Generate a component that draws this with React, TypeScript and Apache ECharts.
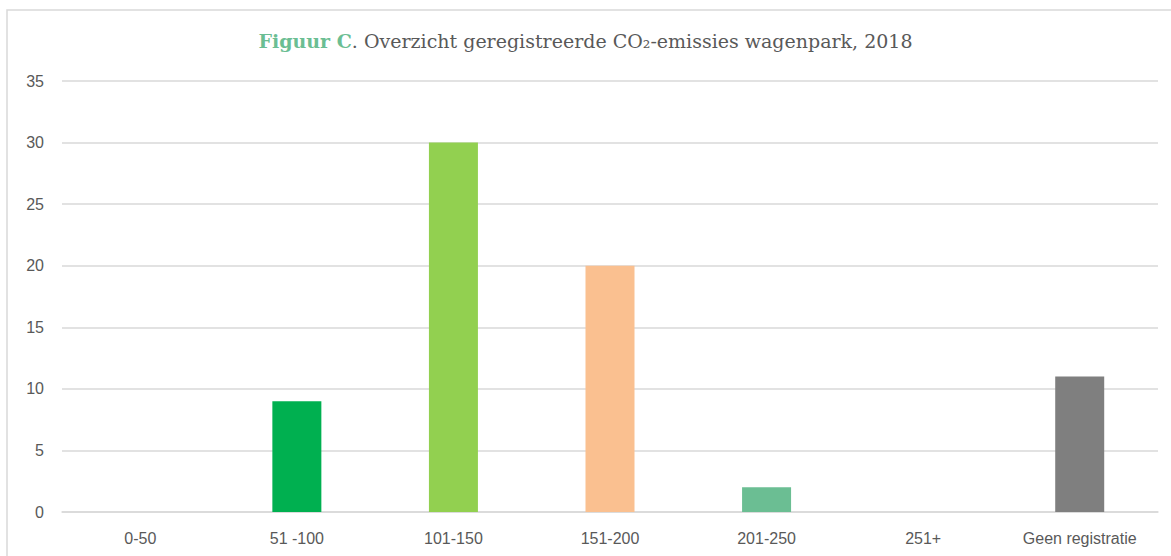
import React, { useEffect, useRef } from "react";
import * as echarts from "echarts";

const categories = ["0-50", "51 -100", "101-150", "151-200", "201-250", "251+", "Geen registratie"];
const values = [0, 9, 30, 20, 2, 0, 11];
const barColors = ["#00B050", "#00B050", "#92D050", "#FAC090", "#6BBE93", "#7F7F7F", "#7F7F7F"];

export default function App() {
  const ref = useRef<HTMLDivElement>(null);
  useEffect(() => {
    const chart = echarts.init(ref.current!, null, { renderer: "svg" });
    chart.setOption({
      animation: false,
      backgroundColor: "#ffffff",
      title: {
        text: "{g|Figuur C}{t|. Overzicht geregistreerde CO₂-emissies wagenpark, 2018}",
        left: "center",
        top: 26,
        textStyle: {
          fontWeight: "normal",
          rich: {
            g: { fontFamily: "DejaVu Serif", fontSize: 19, fontWeight: "bold", color: "#6BBE93" },
            t: { fontFamily: "DejaVu Serif", fontSize: 19, fontWeight: "normal", color: "#595959" },
          },
        },
      },
      graphic: [
        {
          type: "rect",
          shape: { x: 7, y: 10, width: 1180, height: 560 },
          style: { fill: "none", stroke: "#D9D9D9", lineWidth: 1.5 },
          silent: true,
        },
      ],
      grid: { left: 62, right: 13, top: 81, bottom: 44, containLabel: false },
      xAxis: {
        type: "category",
        data: categories,
        axisLine: { lineStyle: { color: "#D9D9D9", width: 1.5 } },
        axisTick: { show: false },
        axisLabel: {
          color: "#595959",
          fontFamily: "Liberation Sans",
          fontSize: 16,
          margin: 18,
        },
      },
      yAxis: {
        type: "value",
        min: 0,
        max: 35,
        interval: 5,
        axisLine: { show: false },
        axisTick: { show: false },
        splitLine: { lineStyle: { color: "#D9D9D9", width: 1.5 } },
        axisLabel: {
          color: "#595959",
          fontFamily: "Liberation Sans",
          fontSize: 16,
          margin: 18,
        },
      },
      series: [
        {
          type: "bar",
          barWidth: 49,
          data: values.map((v, i) => ({ value: v, itemStyle: { color: barColors[i] } })),
        },
      ],
    });
    return () => chart.dispose();
  }, []);
  return <div ref={ref} style={{ position: "absolute", left: 0, top: 0, width: 1171, height: 556 }} />;
}
